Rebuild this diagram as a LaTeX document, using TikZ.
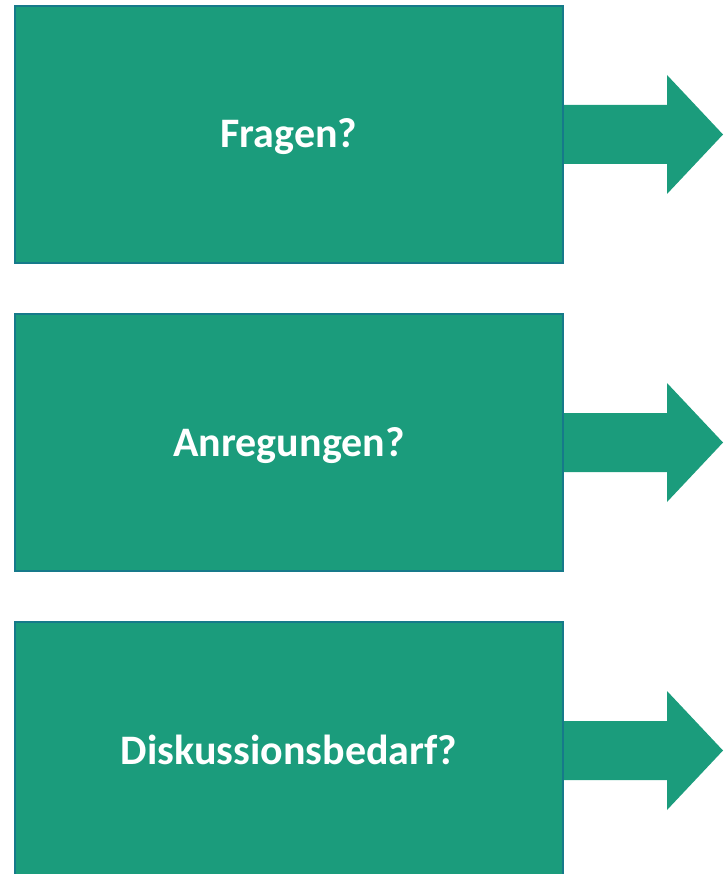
\documentclass[tikz,border=0pt]{standalone}
\usepackage{fontspec}
\setmainfont{Carlito}
\usetikzlibrary{calc}
\definecolor{boxfill}{RGB}{27,156,124}
\definecolor{boxline}{RGB}{22,122,138}
\tikzset{
  qbox/.style={draw=boxline, line width=1.2pt, fill=boxfill, minimum width=548pt, minimum height=257pt, inner sep=0pt, text=white, text height=27pt, text depth=0pt, font=\bfseries\fontsize{42}{50}\selectfont},
  bigarrow/.style={fill=boxfill, draw=none}
}
\begin{document}
\begin{tikzpicture}[x=1pt,y=-1pt]
\useasboundingbox (0,0) rectangle (723,874);
\foreach \n/\cy in {1/134.5, 2/442.5, 3/750.5}{
  \coordinate (s\n) at (563,\cy);
  \coordinate (t\n) at (723,\cy);
  \fill[bigarrow] ($(s\n)+(0,-29.5)$) -- ($(t\n)+(-56,-29.5)$) -- ($(t\n)+(-56,-59.5)$) -- (t\n) -- ($(t\n)+(-56,59.5)$) -- ($(t\n)+(-56,29.5)$) -- ($(s\n)+(0,29.5)$) -- cycle;
}
\node[qbox] (b1) at (289,134.5) {Fragen?};
\node[qbox] (b2) at (289,442.5) {Anregungen?};
\node[qbox] (b3) at (289,750.5) {Diskussionsbedarf?};
\end{tikzpicture}
\end{document}
